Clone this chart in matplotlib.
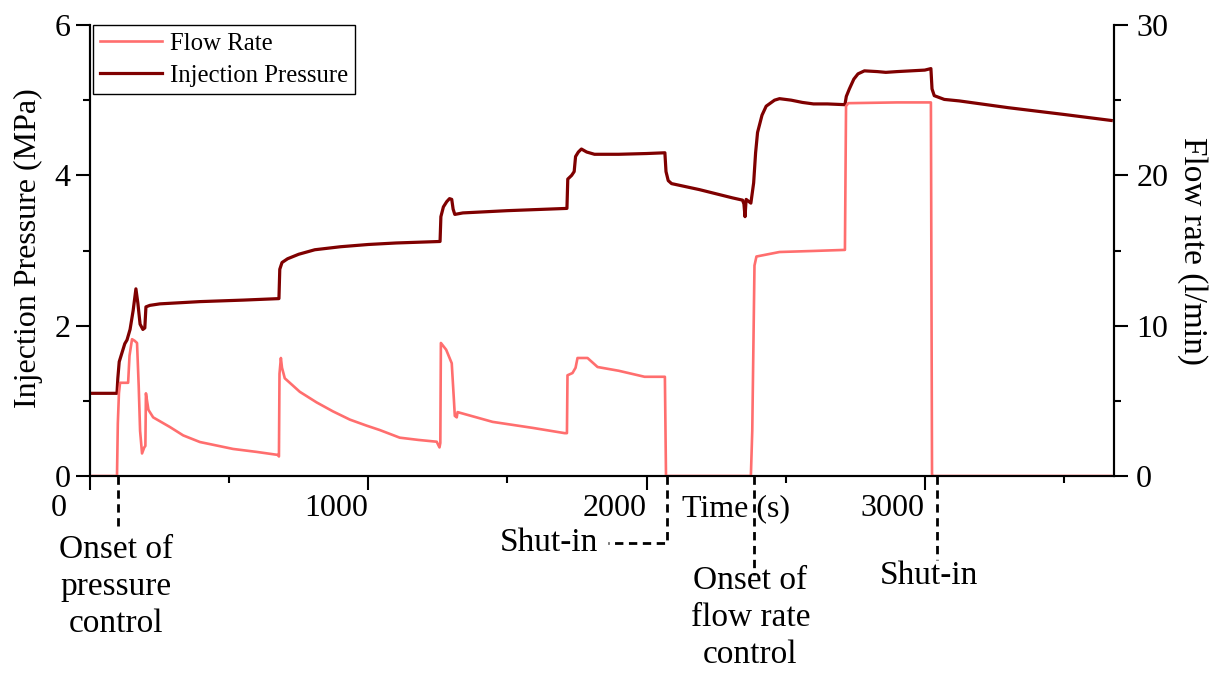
import matplotlib
matplotlib.use("Agg")
import matplotlib.pyplot as plt
from matplotlib.ticker import MultipleLocator

plt.rcParams['font.family'] = ['Liberation Serif', 'DejaVu Serif']

# injection pressure (MPa) vs time (s)
p_time = [0, 97, 100, 105, 115, 125, 133, 144, 155, 165, 172, 180, 190, 197, 201, 215, 251, 395, 550, 679,
          682, 690, 710, 750, 808, 900, 1000, 1100, 1258, 1261, 1270, 1282, 1292, 1300, 1305, 1311, 1340,
          1500, 1714, 1717, 1731, 1740, 1745, 1755, 1766, 1785, 1813, 1900, 2000, 2066, 2070, 2078, 2090,
          2190, 2309, 2345, 2350, 2354, 2358, 2375, 2385, 2392, 2399, 2415, 2430, 2460, 2478, 2520, 2560,
          2600, 2650, 2713, 2718, 2729, 2745, 2760, 2783, 2830, 2860, 2900, 2950, 3000, 3022, 3026, 3034,
          3070, 3124, 3300, 3500, 3670]
pressure = [1.10, 1.10, 1.30, 1.52, 1.64, 1.76, 1.81, 1.95, 2.20, 2.49, 2.30, 2.02, 1.95, 1.97, 2.25, 2.27,
            2.29, 2.32, 2.34, 2.36, 2.75, 2.84, 2.89, 2.95, 3.01, 3.05, 3.08, 3.10, 3.12, 3.45, 3.58, 3.65,
            3.69, 3.68, 3.55, 3.48, 3.50, 3.53, 3.56, 3.95, 4.00, 4.05, 4.25, 4.31, 4.35, 4.31, 4.28, 4.28,
            4.29, 4.30, 4.05, 3.93, 3.89, 3.81, 3.70, 3.67, 3.62, 3.45, 3.68, 3.63, 3.90, 4.30, 4.57, 4.80,
            4.92, 5.00, 5.02, 5.00, 4.97, 4.95, 4.95, 4.94, 5.05, 5.15, 5.28, 5.35, 5.39, 5.38, 5.37, 5.38,
            5.39, 5.40, 5.42, 5.15, 5.06, 5.01, 4.99, 4.90, 4.81, 4.73]

# flow rate (l/min) vs time (s)
f_time = [0, 97, 100, 104, 108, 137, 142, 151, 160, 169, 175, 180, 187, 195, 199, 201, 205, 210, 227, 287,
          335, 395, 514, 600, 676, 679, 681, 686, 690, 700, 754, 814, 873, 934, 994, 1041, 1113, 1180, 1246,
          1256, 1259, 1261, 1280, 1300, 1308, 1311, 1318, 1321, 1447, 1591, 1706, 1714, 1716, 1734, 1745,
          1752, 1788, 1824, 1900, 1993, 2066, 2070, 2375, 2380, 2388, 2395, 2478, 2600, 2713, 2717, 2725,
          2900, 3022, 3026, 3030, 3670]
flow = [0, 0, 3.5, 5.5, 6.2, 6.2, 8.0, 9.1, 9.0, 8.85, 6.0, 3.0, 1.5, 1.9, 2.0, 5.5, 5.0, 4.4, 3.9, 3.26,
        2.7, 2.26, 1.8, 1.6, 1.4, 1.3, 6.8, 7.85, 7.2, 6.5, 5.6, 4.9, 4.3, 3.75, 3.35, 3.06, 2.55, 2.4, 2.28,
        1.9, 2.2, 8.85, 8.4, 7.5, 5.0, 4.0, 3.9, 4.25, 3.6, 3.2, 2.85, 2.85, 6.7, 6.85, 7.2, 7.85, 7.85,
        7.25, 7.0, 6.6, 6.6, 0.0, 0.0, 3.0, 14.0, 14.6, 14.9, 14.97, 15.04, 24.6, 24.8, 24.85, 24.85, 0.1,
        0.0, 0.0]

x_ticks = [0, 1000, 2000, 3000]
x_tick_labels = ['0', '1000', '2000', '3000']

fig = plt.figure(figsize=(12.09, 6.73), dpi=100)
ax = fig.add_axes([90 / 1209, 197 / 673, 1024 / 1209, 451 / 673])
ax2 = ax.twinx()

c_flow = '#FF6E6E'
c_press = '#7F0000'

l_press, = ax.plot(p_time, pressure, color=c_press, lw=2.3, label='Injection Pressure')
l_flow, = ax2.plot(f_time, flow, color=c_flow, lw=1.9, label='Flow Rate')

ax.set_xlim(0, 3680)
ax.set_ylim(0, 6)
ax2.set_ylim(0, 30)

for a in (ax, ax2):
    a.spines['top'].set_visible(False)
    for s in ('left', 'right', 'bottom'):
        a.spines[s].set_linewidth(1.5)
    a.tick_params(which='major', length=10, width=1.5, labelsize=23, direction='out')
    a.tick_params(which='minor', length=5, width=1.5, direction='out')

ax.set_xticks(x_ticks)
ax.set_xticklabels([])
ax.xaxis.set_minor_locator(MultipleLocator(500))
ax.yaxis.set_major_locator(MultipleLocator(2))
ax.yaxis.set_minor_locator(MultipleLocator(1))
ax2.yaxis.set_major_locator(MultipleLocator(10))
ax2.yaxis.set_minor_locator(MultipleLocator(5))
ax.tick_params(axis='y', pad=4)
ax2.tick_params(axis='y', pad=6)

# x tick labels sit to the left of their ticks
xt = ax.get_xaxis_transform()
for t, lab in zip(x_ticks, x_tick_labels):
    dx = -17 if t == 0 else 0
    ax.annotate(lab, xy=(t, 0), xycoords=xt, xytext=(dx, -13), textcoords='offset points',
                ha='right', va='top', fontsize=23)

ax.set_xlabel('Time (s)', fontsize=23)
ax.xaxis.set_label_coords(0.631, -0.04)
ax.set_ylabel('Injection Pressure (MPa)', fontsize=23)
ax.yaxis.set_label_coords(-0.046, 0.505)
ax2.set_ylabel('Flow rate (l/min)', fontsize=24, rotation=270, va='bottom')
ax2.yaxis.set_label_coords(1.062, 0.5)

leg = ax2.legend([l_flow, l_press], ['Flow Rate', 'Injection Pressure'], loc='upper left',
                 bbox_to_anchor=(0.003, 1.0), borderaxespad=0, fontsize=17.8, frameon=True,
                 fancybox=False, framealpha=1, edgecolor='black', handlelength=2.5,
                 handletextpad=0.3, labelspacing=0.4, borderpad=0.3)
leg.get_frame().set_linewidth(1.0)

# annotations below the axis
dash = dict(color='black', lw=2, linestyle=(0, (3, 2)), clip_on=False, transform=xt)
ax.plot([100, 100], [0, -0.11], **dash)
ax.text(92, -0.246, 'Onset of\npressure\ncontrol', transform=xt, ha='center', va='center',
        fontsize=24, linespacing=1.28)

ax.plot([2072, 2072, 1860], [0, -0.149, -0.149], **dash)
ax.text(1825, -0.149, 'Shut-in', transform=xt, ha='right', va='center', fontsize=24)

ax.plot([2388, 2388], [0, -0.22], **dash)
ax.text(2373, -0.315, 'Onset of\nflow rate\ncontrol', transform=xt, ha='center', va='center',
        fontsize=24, linespacing=1.28)

ax.plot([3045, 3045], [0, -0.186], **dash)
ax.text(3015, -0.222, 'Shut-in', transform=xt, ha='center', va='center', fontsize=24)

fig.savefig('out.png', dpi=100)
